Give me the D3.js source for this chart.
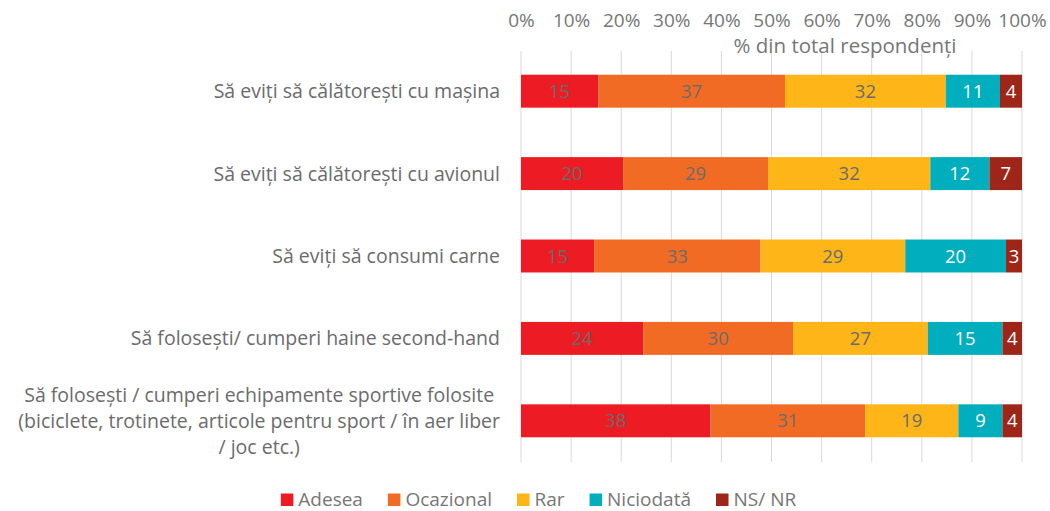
<!DOCTYPE html>
<html><head><meta charset="utf-8">
<script src="https://cdn.jsdelivr.net/npm/d3@7"></script>
<style>
body{margin:0;background:#fff;}
svg{display:block;font-family:"Open Sans",sans-serif;}
</style></head>
<body><svg id="c" width="1050" height="511"></svg>
<script>
const categories = [
  ["Să eviți să călătorești cu mașina"],
  ["Să eviți să călătorești cu avionul"],
  ["Să eviți să consumi carne"],
  ["Să folosești/ cumperi haine second-hand"],
  ["Să folosești / cumperi echipamente sportive folosite","(biciclete, trotinete, articole pentru sport / în aer liber","/ joc etc.)"]
];
const seriesNames = ["Adesea","Ocazional","Rar","Niciodată","NS/ NR"];
const adesea    = [15.4, 20.4, 14.6, 24.4, 37.8];
const ocazional = [37.3, 28.9, 33.2, 29.9, 30.9];
const rar       = [32.1, 32.4, 28.9, 26.9, 18.6];
const niciodata = [10.8, 11.8, 20.1, 14.9, 8.8];
const nsnr      = [4.4, 6.5, 3.2, 3.9, 3.9];
const ticks = [0,10,20,30,40,50,60,70,80,90,100];
const axisTitle = "% din total respondenți";

const colors = ["#ED1C24","#F26B24","#FDB517","#00AEBD","#9E2618"];
const labelColors = ["#6b6b6b","#6b6b6b","#6b6b6b","#ffffff","#ffffff"];
const seriesVals = [adesea, ocazional, rar, niciodata, nsnr];

const svg = d3.select("#c");
const x = d3.scaleLinear().domain([0,100]).range([521,1022]);
const y = d3.scaleBand().domain(d3.range(categories.length)).range([50,462]).paddingInner(0.6).paddingOuter(0.3);

// grid
svg.append("g").selectAll("line").data(ticks).join("line")
  .attr("x1",d=>x(d)).attr("x2",d=>x(d)).attr("y1",51).attr("y2",462)
  .attr("stroke","#d9d9d9").attr("stroke-width",1);

// top axis
const ax = svg.append("g").attr("transform","translate(0,50)")
  .call(d3.axisTop(x).tickValues(ticks).tickFormat(d=>d+"%").tickSize(0).tickPadding(23));
ax.select(".domain").remove();
ax.selectAll("text").attr("fill","#767676").style("font-size","19px").style("font-family","'Open Sans',sans-serif");

svg.append("text").attr("x",845).attr("y",53).attr("text-anchor","middle")
  .attr("fill","#767676").style("font-size","20.5px").text(axisTitle);

// stacks
const rows = categories.map((c,i)=>{
  let acc=0;
  return seriesVals.map((s,k)=>{const r={i,k,v:s[i],x0:acc,x1:acc+s[i]}; acc+=s[i]; return r;});
});
const segs = rows.flat();
svg.append("g").selectAll("rect").data(segs).join("rect")
  .attr("x",d=>x(d.x0)).attr("width",d=>x(d.x1)-x(d.x0))
  .attr("y",d=>y(d.i)).attr("height",y.bandwidth())
  .attr("fill",d=>colors[d.k]);
svg.append("g").selectAll("text").data(segs).join("text")
  .attr("x",d=>(x(d.x0)+x(d.x1))/2).attr("y",d=>y(d.i)+y.bandwidth()/2)
  .attr("dy","0.36em").attr("text-anchor","middle")
  .attr("fill",d=>labelColors[d.k]).style("font-size","18.5px")
  .text(d=>Math.round(d.v));

// category labels
const cl = svg.append("g");
categories.forEach((lines,i)=>{
  const cy = y(i)+y.bandwidth()/2;
  const lh = 26;
  const t = cl.append("text").attr("fill","#6b6b6b").style("font-size","19.5px").attr("text-anchor","middle");
  lines.forEach((ln,j)=>{
    t.append("tspan").attr("x",0).attr("y",cy+(j-(lines.length-1)/2)*lh).attr("dy","0.36em").text(ln);
  });
  let w=0; t.selectAll("tspan").each(function(){w=Math.max(w,this.getComputedTextLength());});
  t.selectAll("tspan").attr("x",500-w/2);
});

// legend
const lg = svg.append("g");
let lx=0;
const gap=25;
seriesNames.forEach((n,k)=>{
  const g = lg.append("g");
  g.append("rect").attr("x",0).attr("y",-12.5).attr("width",12.5).attr("height",12.5).attr("fill",colors[k]);
  const tx = g.append("text").attr("x",17.5).attr("y",0).attr("fill","#767676").style("font-size","19px").text(n);
  const w = 17.5+tx.node().getComputedTextLength();
  g.attr("transform",`translate(${lx},506)`);
  lx += w+gap;
});
const total = lx-gap;
lg.attr("transform",`translate(${538.5-total/2},0)`);
</script></body></html>
